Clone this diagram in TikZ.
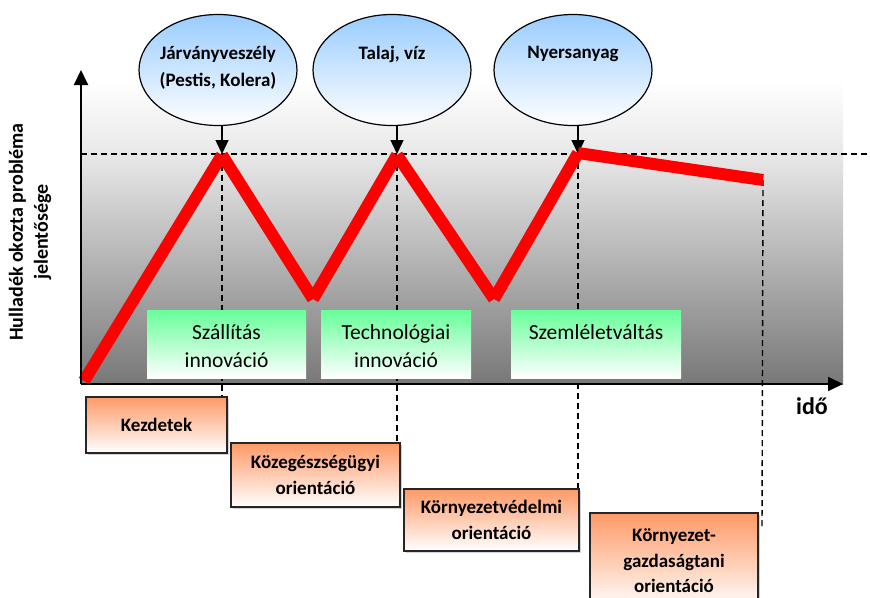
\documentclass[tikz,border=0pt]{standalone}
\usepackage{fontspec}
\setmainfont{Carlito}
\usetikzlibrary{arrows.meta,shapes.geometric,shadows}

\definecolor{panelbot}{gray}{0.47}
\definecolor{panelmid}{gray}{0.91}
\definecolor{cloudblue}{HTML}{99CCFF}
\definecolor{phasegreen}{HTML}{66FF99}
\definecolor{eraorange}{HTML}{FF9966}
\definecolor{trendred}{HTML}{FF0000}

% vertical fade of the chart panel (path box maps to 25bp..75bp)
\pgfdeclareverticalshading{panelfade}{100bp}{%
  color(0bp)=(panelbot); color(25bp)=(panelbot);
  color(62.8bp)=(panelmid); color(75bp)=(white); color(100bp)=(white)}

\begin{document}
\begin{tikzpicture}[x=1pt,y=-1pt,
  txt/.style={font=\fontsize{21.5}{28}\selectfont, align=center, inner sep=0pt},
  btxt/.style={txt, font=\bfseries\fontsize{19}{27}\selectfont},
  cloud/.style={ellipse, draw=black, line width=1.2pt, inner sep=0pt,
    minimum width=158, minimum height=111, top color=cloudblue, bottom color=white},
  phase/.style={rectangle, inner sep=0pt, top color=phasegreen, bottom color=white},
  era/.style={rectangle, draw=black!85, line width=1.6pt, inner sep=0pt,
    top color=eraorange, bottom color=white,
    drop shadow={opacity=0.35, shadow xshift=1.5pt, shadow yshift=-1.5pt},
    font=\bfseries\fontsize{19}{25.5}\selectfont, align=center},
  axis/.style={line width=2pt, -{Triangle[length=15pt,width=14pt]}},
  guide/.style={line width=1.4pt, dash pattern=on 6pt off 4pt},
  drop/.style={line width=1.5pt, -{Triangle[length=14pt,width=13pt]}},
  trend/.style={line width=12pt, draw=trendred, line cap=butt}]
\useasboundingbox (0,0) rectangle (870,597);

% chart panel
\shade[shading=panelfade] (81,80) rectangle (843,384);

% key coordinates of the trend line
\coordinate (p0) at (84,381);
\coordinate (p1) at (222,155);
\coordinate (p2) at (313,299);
\coordinate (p3) at (397,155);
\coordinate (p4) at (494,299);
\coordinate (p5) at (578,153);
\coordinate (p6) at (763,180);

% threshold line
\coordinate (thL) at (81,154);
\coordinate (thR) at (870,154);
\draw[guide] (thL) -- (thR);

% problem clouds
\node[cloud] (c1) at (218,70) {};
\node[cloud] (c2) at (392,70) {};
\node[cloud] (c3) at (573,70) {};
\node[btxt] (c1t) at (218,67.5) {Járványveszély\\(Pestis, Kolera)};
\node[btxt] (c2t) at (392,54) {Talaj, víz};
\node[btxt] (c3t) at (573,54) {Nyersanyag};

\coordinate (a1) at (222,154);
\coordinate (a2) at (397,154);
\coordinate (a3) at (578,154);
\draw[drop] (a1 |- c1.south) -- (a1);
\draw[drop] (a2 |- c2.south) -- (a2);
\draw[drop] (a3 |- c3.south) -- (a3);

% era boxes
\node[era, minimum width=141, minimum height=56] (e1) at (156.5,425) {Kezdetek};
\node[era, minimum width=169, minimum height=64] (e2) at (315.5,475) {Közegészségügyi\\orientáció};
\node[era, minimum width=175, minimum height=62] (e3) at (491.5,520) {Környezetvédelmi\\orientáció};
\node[era, minimum width=168, minimum height=96] (e4) at (674,561) {Környezet-\\gazdaságtani\\orientáció};

% vertical guides from the peaks down to the eras
\coordinate (g4) at (762,528);
\draw[guide] (p1) -- (p1 |- e1.north);
\draw[guide] (p3) -- (p3 |- e2.north);
\draw[guide] (p5) -- (p5 |- e3.north);
\draw[guide] (p6) -- (g4);

% innovation phases
\node[phase, minimum width=159, minimum height=68] (f1) at (226.5,344) {};
\node[phase, minimum width=150, minimum height=68] (f2) at (396,344) {};
\node[phase, minimum width=170, minimum height=68] (f3) at (596,344) {};
\node[txt] (f1t) at (226.5,346) {Szállítás\\innováció};
\node[txt] (f2t) at (396,346) {Technológiai\\innováció};
\node[txt] (f3t) at (596,332) {Szemléletváltás};

% trend line
\draw[trend] (p0) -- (p1);
\draw[trend] (p1) -- (p2);
\draw[trend] (p2) -- (p3);
\draw[trend] (p3) -- (p4);
\draw[trend] (p4) -- (p5);
\draw[trend] (p5) -- (p6);

% axes
\coordinate (o) at (81,384);
\coordinate (ytip) at (81,70);
\coordinate (xtip) at (843,384);
\draw[axis] (o) -- (ytip);
\draw[axis] (o) -- (xtip);

\node[inner sep=0pt, font=\bfseries\fontsize{24}{28}\selectfont] (xl) at (812,406) {idő};
\node[rotate=90, align=center, inner sep=0pt,
  font=\bfseries\fontsize{20}{25}\selectfont] (yl) at (30,232)
  {Hulladék okozta probléma\\jelentősége};
\end{tikzpicture}
\end{document}
